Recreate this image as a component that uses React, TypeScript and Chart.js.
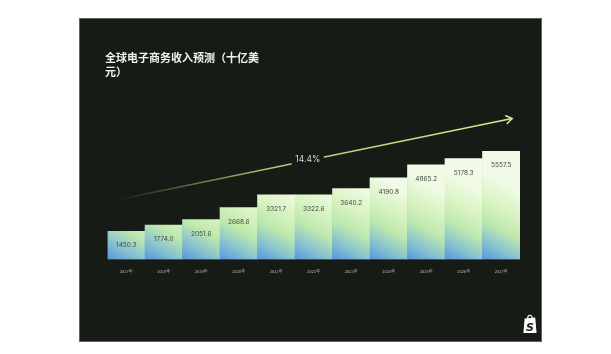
import React, { useEffect, useRef } from "react";
import { Chart, registerables } from "chart.js";

Chart.register(...registerables);

const TITLE_LINES = ["全球电子商务收入预测（十亿美", "元）"];
const YEARS = ["2017年", "2018年", "2019年", "2020年", "2021年", "2022年", "2023年", "2024年", "2025年", "2026年", "2027年"];
const REVENUE = [1450.3, 1774.0, 2051.6, 2668.6, 3321.7, 3322.6, 3640.2, 4190.8, 4865.2, 5178.3, 5557.5];
const CAGR_LABEL = "14.4%";
// trend arrow endpoints in data coordinates (category index, value)
const TREND_START = { index: -0.27, value: 3060 };
const TREND_END = { index: 10.29, value: 7245 };
const Y_MAX = 9000;

const BG = "#161b15";
const BAR_STOPS: [number, string][] = [
  [0, "#5a95dc"],
  [0.22, "#86c2d0"],
  [0.45, "#bde8ad"],
  [0.7, "#d8f3c2"],
  [1, "#f1fae6"],
];

const valueLabels = {
  id: "valueLabels",
  afterDatasetsDraw(chart: any) {
    const meta = chart.getDatasetMeta(0);
    const c = chart.ctx;
    c.save();
    c.font = "6.5px Inter, 'Noto Sans', sans-serif";
    c.fillStyle = "#464b46";
    c.textAlign = "center";
    c.textBaseline = "middle";
    meta.data.forEach((el: any, i: number) => {
      c.fillText(REVENUE[i].toFixed(1), el.x, el.y + 14);
    });
    c.restore();
  },
};

const trendArrow = {
  id: "trendArrow",
  afterDraw(chart: any) {
    const xs = chart.scales.x;
    const ys = chart.scales.y;
    const x0 = xs.getPixelForValue(TREND_START.index);
    const y0 = ys.getPixelForValue(TREND_START.value);
    const x1 = xs.getPixelForValue(TREND_END.index);
    const y1 = ys.getPixelForValue(TREND_END.value);
    const c = chart.ctx;
    const lerp = (t: number) => [x0 + (x1 - x0) * t, y0 + (y1 - y0) * t];
    const g = c.createLinearGradient(x0, y0, x1, y1);
    g.addColorStop(0, "rgba(198,236,134,0)");
    g.addColorStop(0.4, "rgba(198,236,134,0.85)");
    g.addColorStop(1, "rgba(206,240,146,1)");
    c.save();
    c.strokeStyle = g;
    c.lineWidth = 1.5;
    c.lineCap = "round";
    const gapA = 0.442;
    const gapB = 0.526;
    const [ax, ay] = lerp(gapA);
    const [bx, by] = lerp(gapB);
    c.beginPath();
    c.moveTo(x0, y0);
    c.lineTo(ax, ay);
    c.moveTo(bx, by);
    c.lineTo(x1, y1);
    c.stroke();
    // arrow head
    const ang = Math.atan2(y1 - y0, x1 - x0);
    const len = 7;
    c.strokeStyle = "rgba(206,240,146,1)";
    c.beginPath();
    c.moveTo(x1 - len * Math.cos(ang - 0.6), y1 - len * Math.sin(ang - 0.6));
    c.lineTo(x1, y1);
    c.lineTo(x1 - len * Math.cos(ang + 0.6), y1 - len * Math.sin(ang + 0.6));
    c.stroke();
    // label
    const [lx, ly] = lerp(0.484);
    c.font = "8.5px Inter, 'Noto Sans', sans-serif";
    c.fillStyle = "#d6d8d6";
    c.textAlign = "center";
    c.textBaseline = "middle";
    c.fillText(CAGR_LABEL, lx, ly - 1.5);
    c.restore();
  },
};

function barFill(ctx: any) {
  const chart = ctx.chart;
  const xs = chart.scales?.x;
  const ys = chart.scales?.y;
  if (!chart.chartArea || !xs || !ys || ctx.dataIndex == null) return "#cdeebc";
  const i = ctx.dataIndex;
  const half = xs.width / YEARS.length / 2;
  const cx = xs.getPixelForValue(i);
  const bot = ys.getPixelForValue(0);
  const w = half * 2;
  const g = chart.ctx.createLinearGradient(cx - half, bot, cx + half, bot - w * 1.8);
  BAR_STOPS.forEach(([o, col]) => g.addColorStop(o, col));
  return g;
}

export default function App() {
  const ref = useRef<HTMLCanvasElement | null>(null);

  useEffect(() => {
    if (!ref.current) return;
    const chart = new Chart(ref.current, {
      type: "bar",
      data: {
        labels: YEARS,
        datasets: [
          {
            data: REVENUE,
            backgroundColor: barFill,
            borderWidth: 0,
            categoryPercentage: 1,
            barPercentage: 1,
          },
        ],
      },
      options: {
        responsive: false,
        animation: false,
        devicePixelRatio: 1,
        layout: { padding: { left: 26, right: 22, top: 0, bottom: 58.7 } },
        plugins: {
          legend: { display: false },
          tooltip: { enabled: false },
          title: {
            display: true,
            text: TITLE_LINES,
            align: "start",
            color: "#f2f2f2",
            font: { family: "'Noto Sans CJK SC', sans-serif", size: 11, weight: "600", lineHeight: 14 / 11 },
            padding: { top: 32.7, bottom: 5.6 },
          },
        },
        scales: {
          x: {
            grid: { display: false, drawTicks: false },
            border: { display: false },
            ticks: {
              color: "#b4b8b4",
              font: { family: "'Noto Sans CJK SC', sans-serif", size: 4 },
              padding: 9.5,
              maxRotation: 0,
              autoSkip: false,
            },
          },
          y: {
            display: true,
            min: 0,
            max: Y_MAX,
            grid: { display: false, drawTicks: false },
            border: { display: false },
            ticks: { display: false },
            afterFit: (s: any) => {
              s.width = 2.5;
            },
          },
        },
      },
      plugins: [valueLabels, trendArrow],
    });
    return () => chart.destroy();
  }, []);

  return (
    <div style={{ position: "absolute", left: 0, top: 0, width: 611, height: 354, background: "#ffffff" }}>
      <div
        style={{
          position: "absolute",
          left: 79,
          top: 18,
          width: 463,
          height: 324,
          background: BG,
          outline: "1px solid #5e615e",
          outlineOffset: -1,
        }}
      >
        <canvas ref={ref} width={463} height={324} style={{ display: "block" }} />
        <svg
          width={14}
          height={21}
          viewBox="0 0 14 21"
          style={{ position: "absolute", left: 444, top: 295 }}
        >
          <path d="M4.6 5.5 C4.6 1.2, 9.2 1.2, 9.2 5.2" stroke="#ffffff" strokeWidth={1.2} fill="none" />
          <polygon points="1.6,5.6 12.2,4.6 13.6,20 0.4,20" fill="#ffffff" />
          <text
            x={7}
            y={17.6}
            textAnchor="middle"
            fontSize={11}
            fontWeight="bold"
            fontStyle="italic"
            fontFamily="DejaVu Sans, sans-serif"
            fill={BG}
          >
            S
          </text>
        </svg>
      </div>
    </div>
  );
}
